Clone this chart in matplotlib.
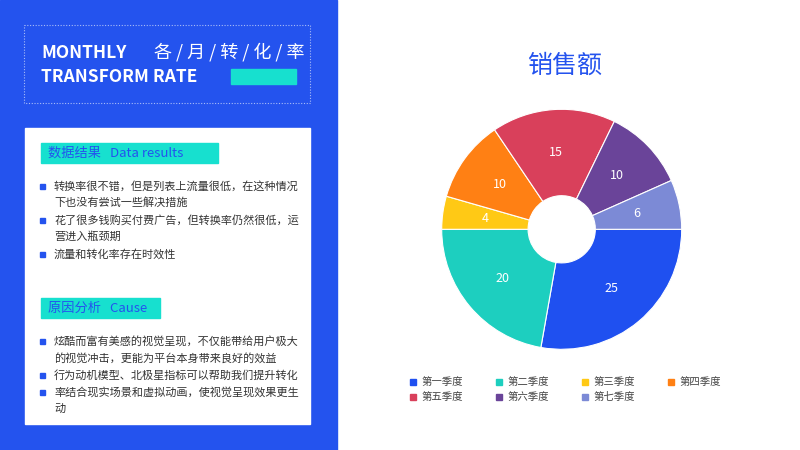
import matplotlib
matplotlib.use("Agg")
import matplotlib.pyplot as plt
from matplotlib.patches import Rectangle

plt.rcParams["font.family"] = ["Noto Sans CJK SC", "DejaVu Sans"]

# chart data
quarters = ["第一季度", "第二季度", "第三季度", "第四季度", "第五季度", "第六季度", "第七季度"]
sales = [25, 20, 4, 10, 15, 10, 6]
colors = ["#1F50F0", "#1DCFBF", "#FFC915", "#FF8014", "#D9405B", "#6A4499", "#7C8AD6"]

# side panel text
results_lines = [
    ["转换率很不错，但是列表上流量很低，在这种情况", "下也没有尝试一些解决措施"],
    ["花了很多钱购买付费广告，但转换率仍然很低，运", "营进入瓶颈期"],
    ["流量和转化率存在时效性"],
]
cause_lines = [
    ["炫酷而富有美感的视觉呈现，不仅能带给用户极大", "的视觉冲击，更能为平台本身带来良好的效益"],
    ["行为动机模型、北极星指标可以帮助我们提升转化"],
    ["率结合现实场景和虚拟动画，使视觉呈现效果更生", "动"],
]

BLUE = "#2453EE"
TEAL = "#17E0CF"
W, H = 800, 450

fig = plt.figure(figsize=(8, 4.5), dpi=100)
fig.patch.set_facecolor("white")

# full-figure axes in pixel coords (y down) for the left panel
bg = fig.add_axes([0, 0, 1, 1])
bg.set_xlim(0, W)
bg.set_ylim(H, 0)
bg.axis("off")

bg.add_patch(Rectangle((0, 0), 337, H, color=BLUE, zorder=0))
bg.add_patch(Rectangle((24, 25), 286, 78, fill=False, edgecolor="#A9BCF7",
                       linestyle=(0, (1, 1.5)), linewidth=0.8, zorder=1))
bg.text(41, 53, "MONTHLY", color="white", fontsize=12.5, fontweight="bold",
        va="center", ha="left")
bg.text(41, 77, "TRANSFORM RATE", color="white", fontsize=12.5, fontweight="bold",
        va="center", ha="left")
bg.text(305, 52, "各 / 月 / 转 / 化 / 率", color="white", fontsize=13,
        va="center", ha="right")
bg.add_patch(Rectangle((231, 69), 65, 15, color=TEAL, zorder=2))

bg.add_patch(Rectangle((25, 128), 285, 296, color="white", zorder=1))


def draw_section(y_head, head_w, head_text, lines):
    bg.add_patch(Rectangle((41, y_head - 10), head_w, 20, color=TEAL, zorder=2))
    bg.text(48, y_head, head_text, color=BLUE, fontsize=9.5, va="center",
            ha="left", zorder=3)
    y = y_head + 33
    for item in lines:
        bg.add_patch(Rectangle((40, y - 2.5), 5, 5, color=BLUE, zorder=3))
        for line in item:
            bg.text(54, y, line, color="#333333", fontsize=8, va="center",
                    ha="left", zorder=3)
            y += 17


draw_section(153, 177, "数据结果   Data results", results_lines)
draw_section(308, 119, "原因分析   Cause", cause_lines)

# title
bg.text(565, 66, "销售额", color=BLUE, fontsize=18, va="center", ha="center")

# donut chart
cx, cy, r = 561.7, 229.3, 120
ax = fig.add_axes([(cx - r) / W, (H - cy - r) / H, 2 * r / W, 2 * r / H])
wedges, texts, autotexts = ax.pie(
    sales,
    colors=colors,
    startangle=0,
    counterclock=False,
    radius=1,
    autopct=lambda p: f"{p * sum(sales) / 100:.0f}",
    pctdistance=0.64,
    wedgeprops=dict(width=0.72, edgecolor="white", linewidth=0.8),
    textprops=dict(color="white", fontsize=9),
)
ax.set_xlim(-1, 1)
ax.set_ylim(-1, 1)
ax.axis("off")

# legend drawn as squares and labels
leg_x = [413, 499, 585, 671]
leg_y = [382, 397]
for i, (name, col) in enumerate(zip(quarters, colors)):
    x = leg_x[i % 4]
    y = leg_y[i // 4]
    bg.add_patch(Rectangle((x - 3, y - 3), 6, 6, color=col, zorder=3))
    bg.text(x + 9, y, name, color="#444444", fontsize=7.5, va="center", ha="left")

fig.savefig("out.png", dpi=100)
